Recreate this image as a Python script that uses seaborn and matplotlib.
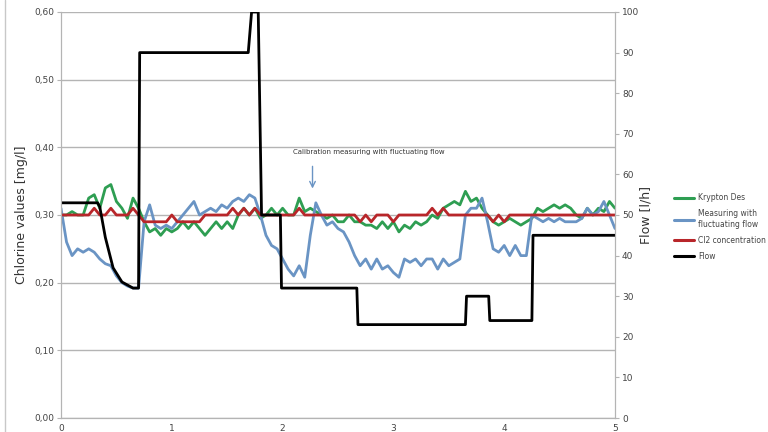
import numpy as np
import pandas as pd
import matplotlib.pyplot as plt
import matplotlib.ticker as mticker
from matplotlib.lines import Line2D
import seaborn as sns

sns.set_style("white")
plt.rcParams['font.family'] = ['DejaVu Sans']

# time axis (0..5), sampled every 0.05
t = [round(i * 0.05, 2) for i in range(101)]

krypton = [0.300, 0.300, 0.305, 0.300, 0.300, 0.325, 0.330, 0.310, 0.340, 0.345,
           0.320, 0.310, 0.295, 0.325, 0.310, 0.290, 0.275, 0.280, 0.270, 0.280,
           0.275, 0.280, 0.290, 0.280, 0.290, 0.280, 0.270, 0.280, 0.290, 0.280,
           0.290, 0.280, 0.300, 0.310, 0.300, 0.310, 0.295, 0.300, 0.310, 0.300,
           0.310, 0.300, 0.300, 0.325, 0.305, 0.310, 0.305, 0.300, 0.295, 0.300,
           0.290, 0.290, 0.300, 0.290, 0.290, 0.285, 0.285, 0.280, 0.290, 0.280,
           0.290, 0.275, 0.285, 0.280, 0.290, 0.285, 0.290, 0.300, 0.295, 0.310,
           0.315, 0.320, 0.315, 0.335, 0.320, 0.325, 0.310, 0.300, 0.290, 0.285,
           0.290, 0.295, 0.290, 0.285, 0.290, 0.295, 0.310, 0.305, 0.310, 0.315,
           0.310, 0.315, 0.310, 0.300, 0.295, 0.310, 0.300, 0.310, 0.305, 0.320,
           0.310]

measuring = [0.310, 0.260, 0.240, 0.250, 0.245, 0.250, 0.245, 0.235, 0.228, 0.225,
             0.210, 0.200, 0.195, 0.192, 0.192, 0.290, 0.315, 0.285, 0.280, 0.285,
             0.280, 0.290, 0.300, 0.310, 0.320, 0.300, 0.305, 0.310, 0.305, 0.315,
             0.310, 0.320, 0.325, 0.320, 0.330, 0.325, 0.300, 0.270, 0.255, 0.250,
             0.235, 0.220, 0.210, 0.225, 0.208, 0.270, 0.318, 0.300, 0.285, 0.290,
             0.280, 0.275, 0.260, 0.240, 0.225, 0.235, 0.220, 0.235, 0.220, 0.225,
             0.215, 0.208, 0.235, 0.230, 0.235, 0.225, 0.235, 0.235, 0.220, 0.235,
             0.225, 0.230, 0.235, 0.300, 0.310, 0.310, 0.325, 0.290, 0.250, 0.245,
             0.255, 0.240, 0.255, 0.240, 0.240, 0.300, 0.295, 0.290, 0.295, 0.290,
             0.295, 0.290, 0.290, 0.290, 0.295, 0.310, 0.300, 0.305, 0.320, 0.300,
             0.280]

cl2 = [0.30, 0.30, 0.30, 0.30, 0.30, 0.30, 0.31, 0.30, 0.30, 0.31,
       0.30, 0.30, 0.30, 0.31, 0.30, 0.29, 0.29, 0.29, 0.29, 0.29,
       0.30, 0.29, 0.29, 0.29, 0.29, 0.29, 0.30, 0.30, 0.30, 0.30,
       0.30, 0.31, 0.30, 0.31, 0.30, 0.31, 0.30, 0.30, 0.30, 0.30,
       0.30, 0.30, 0.30, 0.31, 0.30, 0.30, 0.30, 0.30, 0.30, 0.30,
       0.30, 0.30, 0.30, 0.30, 0.29, 0.30, 0.29, 0.30, 0.30, 0.30,
       0.29, 0.30, 0.30, 0.30, 0.30, 0.30, 0.30, 0.31, 0.30, 0.31,
       0.30, 0.30, 0.30, 0.30, 0.30, 0.30, 0.30, 0.30, 0.29, 0.30,
       0.29, 0.30, 0.30, 0.30, 0.30, 0.30, 0.30, 0.30, 0.30, 0.30,
       0.30, 0.30, 0.30, 0.30, 0.30, 0.30, 0.30, 0.30, 0.30, 0.30,
       0.30]

# flow [l/h], corner points of the step line
flow_t = [0, 0.33, 0.35, 0.40, 0.47, 0.55, 0.65, 0.70, 0.71, 1.69, 1.72, 1.78,
          1.81, 1.98, 1.99, 2.67, 2.68, 3.65, 3.66, 3.86, 3.87, 4.25, 4.26, 5.0]
flow = [53, 53, 52, 44.5, 37, 33.5, 32, 32, 90, 90, 100, 100,
        50, 50, 32, 32, 23, 23, 30, 30, 24, 24, 45, 45]

c_green = "#2e9e52"
c_blue = "#6a94c4"
c_red = "#b8262a"
c_grid = "#b4b4b4"

df = pd.DataFrame({"t": t, "Krypton Des": krypton,
                   "Measuring with\nfluctuating flow": measuring,
                   "Cl2 concentration": cl2})
df_flow = pd.DataFrame({"t": flow_t, "Flow": flow})

fig = plt.figure(figsize=(7.68, 4.32), dpi=100)
ax = fig.add_axes([61 / 768, 14 / 432, 554 / 768, 406 / 432])
ax2 = ax.twinx()

sns.lineplot(data=df, x="t", y="Krypton Des", ax=ax, color=c_green, lw=2.0)
sns.lineplot(data=df, x="t", y="Measuring with\nfluctuating flow", ax=ax, color=c_blue, lw=2.0)
sns.lineplot(data=df, x="t", y="Cl2 concentration", ax=ax, color=c_red, lw=2.0)
sns.lineplot(data=df_flow, x="t", y="Flow", ax=ax2, color="black", lw=2.0)

ax.set_xlim(0, 5)
ax.set_ylim(0, 0.6)
ax2.set_ylim(0, 100)
ax.set_yticks(np.arange(0, 0.61, 0.1))
ax2.set_yticks(np.arange(0, 101, 10))
ax.set_xticks(range(6))
ax.yaxis.set_major_formatter(mticker.FuncFormatter(lambda v, p: f"{v:.2f}".replace(".", ",")))

ax.grid(axis="y", color=c_grid, lw=1.0)
ax.set_axisbelow(True)
for a in (ax, ax2):
    for s in a.spines.values():
        s.set_color(c_grid)
    a.spines["top"].set_visible(False)
    a.tick_params(length=3, width=0.8, color=c_grid, labelsize=6.5, labelcolor="#444444", pad=2)
ax.tick_params(axis="x", pad=1)

ax.set_xlabel("")
ax.set_ylabel("Chlorine values [mg/l]", fontsize=9, color="#333333", labelpad=4)
ax2.set_ylabel("Flow [l/h]", fontsize=9, color="#333333", labelpad=0)

ax.text(2.09, 0.388, "Calibration measuring with fluctuating flow", ha="left", va="bottom",
        fontsize=5, color="#333333")
ax.annotate("", xy=(2.27, 0.335), xytext=(2.27, 0.376),
            arrowprops=dict(arrowstyle="->", color=c_blue, lw=1.0))

handles = [Line2D([], [], color=c_green, lw=2.2), Line2D([], [], color=c_blue, lw=2.2),
           Line2D([], [], color=c_red, lw=2.2), Line2D([], [], color="black", lw=2.2)]
labels = ["Krypton Des", "Measuring with\nfluctuating flow", "Cl2 concentration", "Flow"]
fig.legend(handles, labels, loc="center left", bbox_to_anchor=(667 / 768, 1 - 227 / 432),
           frameon=False, fontsize=5.5, handlelength=2.6, labelspacing=0.9, handletextpad=0.6,
           labelcolor="#444444")

fig.add_artist(Line2D([5 / 768, 5 / 768], [0, 1], color="#c8c8c8", lw=1.0))

fig.savefig("out.png", dpi=100)
